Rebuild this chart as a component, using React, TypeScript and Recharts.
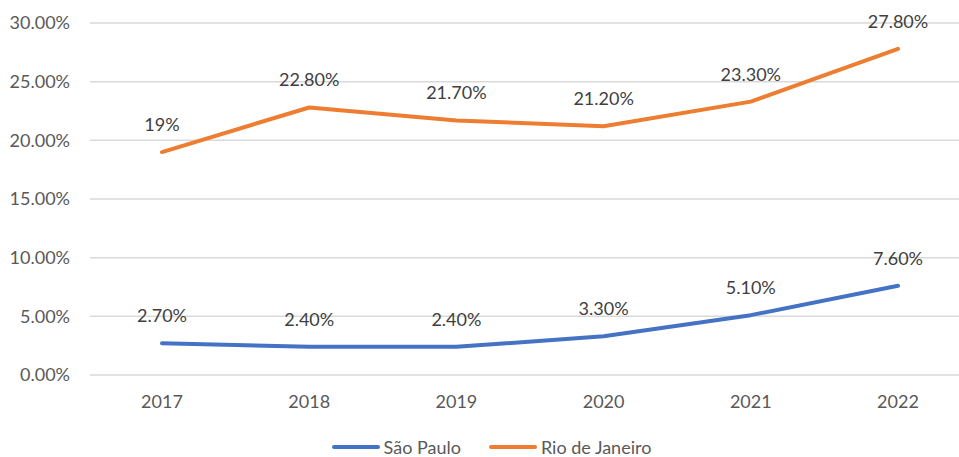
import React from "react";
import { LineChart, Line, XAxis, YAxis, CartesianGrid, LabelList, Legend } from "recharts";

const years = ["2017", "2018", "2019", "2020", "2021", "2022"];
const saoPaulo = [2.7, 2.4, 2.4, 3.3, 5.1, 7.6];
const rioDeJaneiro = [19, 22.8, 21.7, 21.2, 23.3, 27.8];
const saoPauloLabels = ["2.70%", "2.40%", "2.40%", "3.30%", "5.10%", "7.60%"];
const rioLabels = ["19%", "22.80%", "21.70%", "21.20%", "23.30%", "27.80%"];
const yTicks = [0, 5, 10, 15, 20, 25, 30];

const data = years.map((y, i) => ({
  year: y,
  sp: saoPaulo[i],
  rj: rioDeJaneiro[i],
  spLabel: saoPauloLabels[i],
  rjLabel: rioLabels[i],
}));

const FONT = "Lato, 'Noto Sans', sans-serif";
const TEXT = "#595959";
const FS = 18;

const legendItems = [
  { name: "São Paulo", color: "#4472C4" },
  { name: "Rio de Janeiro", color: "#ED7D31" },
];

const CustomLegend = () => (
  <div style={{ display: "flex", justifyContent: "center", fontFamily: FONT, fontSize: FS, color: TEXT, paddingLeft: 10, lineHeight: "22px" }}>
    {legendItems.map((it, i) => (
      <div key={it.name} style={{ display: "flex", alignItems: "center", marginLeft: i ? 27 : 0 }}>
        <svg width={50} height={8} style={{ marginRight: 3 }}>
          <line x1={3} y1={4} x2={47} y2={4} stroke={it.color} strokeWidth={4} strokeLinecap="round" />
        </svg>
        <span>{it.name}</span>
      </div>
    ))}
  </div>
);

export default function App() {
  return (
    <div style={{ position: "absolute", left: 0, top: 0, width: 959, height: 457, overflow: "hidden", background: "#fff" }}>
      <LineChart width={975} height={457} data={data} margin={{ top: 23, right: 3, left: 0, bottom: 0 }}>
        <CartesianGrid vertical={false} stroke="#d9d9d9" strokeWidth={1.5} />
        <XAxis
          dataKey="year"
          axisLine={false}
          tickLine={false}
          tickSize={0}
          tickMargin={20}
          height={44}
          padding={{ left: 72, right: 74 }}
          tick={{ fill: TEXT, fontSize: FS, fontFamily: FONT }}
        />
        <YAxis
          domain={[0, 30]}
          ticks={yTicks}
          width={90}
          axisLine={false}
          tickLine={false}
          tickSize={0}
          tickMargin={20}
          tickFormatter={(v: number) => v.toFixed(2) + "%"}
          tick={{ fill: TEXT, fontSize: FS, fontFamily: FONT }}
        />
        <Legend verticalAlign="bottom" height={38} content={<CustomLegend />} wrapperStyle={{ top: 436, bottom: "auto" }} />
        <Line type="linear" dataKey="sp" name="São Paulo" stroke="#4472C4" strokeWidth={4} dot={false} isAnimationActive={false} strokeLinecap="round" strokeLinejoin="round">
          <LabelList dataKey="spLabel" position="top" offset={21} fill="#404040" fontSize={FS} fontFamily={FONT} />
        </Line>
        <Line type="linear" dataKey="rj" name="Rio de Janeiro" stroke="#ED7D31" strokeWidth={4} dot={false} isAnimationActive={false} strokeLinecap="round" strokeLinejoin="round">
          <LabelList dataKey="rjLabel" position="top" offset={21} fill="#404040" fontSize={FS} fontFamily={FONT} />
        </Line>
      </LineChart>
    </div>
  );
}
